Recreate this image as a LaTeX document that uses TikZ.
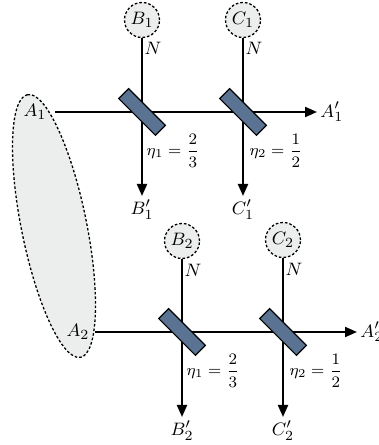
\documentclass[tikz,border=0pt]{standalone}
\usepackage{amsmath}
\usetikzlibrary{arrows.meta}
\definecolor{bsblue}{HTML}{5A7392}
\definecolor{lightgrey}{HTML}{ECEDED}
\tikzset{
  beam/.style={line width=1pt, -{Triangle[length=6pt,width=5pt]}},
  mode/.style={circle, draw, fill=lightgrey, line width=0.65pt, dash pattern=on 1.3pt off 1pt, minimum size=17.5pt, inner sep=0pt, font=\fontsize{9.5}{11}\selectfont},
  bs/.style={rectangle, draw=black, line width=0.6pt, fill=bsblue, minimum width=26pt, minimum height=7pt, inner sep=0pt, rotate=-45},
  lab/.style={inner sep=1.5pt, font=\fontsize{9.5}{11}\selectfont},
  eta/.style={inner sep=0pt, font=\footnotesize},
}
\begin{document}
\begin{tikzpicture}[x=0.5pt,y=0.5pt]
\useasboundingbox (0,0) rectangle (379,445);
% entanglement region
\draw[fill=lightgrey, line width=0.65pt, dash pattern=on 1.3pt off 1pt] (54,219) ellipse [x radius=67pt, y radius=16.3pt, rotate=101.4];
% ---- row 1 ----
\coordinate (x11) at (142,333);
\coordinate (x12) at (243,333);
\coordinate (s1) at (55,333);
\node[lab] (A1) at (35,333) {$A_1$};
\node[lab, anchor=west] (A1p) at (317,333) {$A_1'$};
\node[mode] (B1) at (142,425) {$B_1$};
\node[mode] (C1) at (243,425) {$C_1$};
\node[lab, anchor=north] (B1p) at (142,249) {$B_1'$};
\node[lab, anchor=north] (C1p) at (243,249) {$C_1'$};
\node[lab] (N11) at (153,397) {$N$};
\node[lab] (N12) at (254,397) {$N$};
\draw[beam] (s1) -- (A1p.west);
\draw[beam] (B1) -- (B1p.north);
\draw[beam] (C1) -- (C1p.north);
\node[bs] (bs11) at (x11) {};
\node[bs] (bs12) at (x12) {};
\node[eta] (e11) at (173,294) {$\eta_1=\dfrac{2}{3}$};
\node[eta] (e12) at (276,294) {$\eta_2=\dfrac{1}{2}$};
% ---- row 2 ----
\coordinate (x21) at (182,113);
\coordinate (x22) at (283,113);
\coordinate (s2) at (95,113);
\node[lab] (A2) at (78,113) {$A_2$};
\node[lab, anchor=west] (A2p) at (357,113) {$A_2'$};
\node[mode] (B2) at (182,204) {$B_2$};
\node[mode] (C2) at (283,205) {$C_2$};
\node[lab, anchor=north] (B2p) at (182,28) {$B_2'$};
\node[lab, anchor=north] (C2p) at (283,28) {$C_2'$};
\node[lab] (N21) at (193,175) {$N$};
\node[lab] (N22) at (294,176) {$N$};
\draw[beam] (s2) -- (A2p.west);
\draw[beam] (B2) -- (B2p.north);
\draw[beam] (C2) -- (C2p.north);
\node[bs] (bs21) at (x21) {};
\node[bs] (bs22) at (x22) {};
\node[eta] (e21) at (213,74) {$\eta_1=\dfrac{2}{3}$};
\node[eta] (e22) at (316,74) {$\eta_2=\dfrac{1}{2}$};
\end{tikzpicture}
\end{document}
